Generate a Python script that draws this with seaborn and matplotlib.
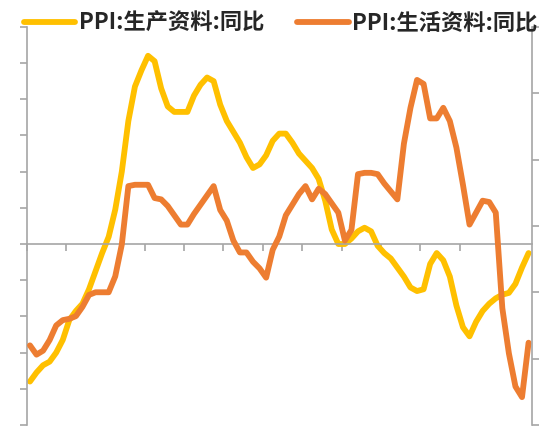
import numpy as np
import pandas as pd
import seaborn as sns
import matplotlib.pyplot as plt
from matplotlib.lines import Line2D

sns.set_style('white')
plt.rcParams['font.family'] = ['Noto Sans CJK SC', 'DejaVu Sans']

# monthly values (77 months)
months = np.arange(77)
ppi_prod = [-7.6, -7.1, -6.7, -6.5, -6.0, -5.3, -4.2, -3.7, -3.3, -2.5,
            -1.5, -0.5, 0.4, 1.9, 4.0, 6.8, 8.7, 9.6, 10.4, 10.1,
            8.6, 7.6, 7.3, 7.3, 7.3, 8.2, 8.8, 9.2, 9.0, 7.7,
            6.8, 6.2, 5.6, 4.8, 4.2, 4.4, 4.9, 5.7, 6.1, 6.1,
            5.6, 5.0, 4.6, 4.2, 3.6, 2.4, 0.8, 0.0, 0.0, 0.3,
            0.7, 0.9, 0.7, -0.1, -0.5, -0.8, -1.3, -1.8, -2.4, -2.6,
            -2.5, -1.1, -0.5, -0.9, -1.8, -3.4, -4.6, -5.1, -4.3, -3.7,
            -3.3, -3.0, -2.8, -2.7, -2.2, -1.3, -0.5]
ppi_life = [-0.90, -0.97, -0.94, -0.86, -0.75, -0.71, -0.70, -0.68, -0.61, -0.52,
            -0.50, -0.50, -0.50, -0.38, -0.14, 0.30, 0.31, 0.31, 0.31, 0.21,
            0.20, 0.15, 0.08, 0.01, 0.01, 0.09, 0.16, 0.23, 0.30, 0.12,
            0.04, -0.11, -0.20, -0.20, -0.27, -0.32, -0.39, -0.18, -0.08, 0.08,
            0.16, 0.24, 0.30, 0.20, 0.28, 0.24, 0.17, 0.10, -0.11, -0.03,
            0.39, 0.40, 0.40, 0.39, 0.32, 0.26, 0.20, 0.62, 0.89, 1.10,
            1.07, 0.81, 0.81, 0.89, 0.79, 0.59, 0.31, 0.01, 0.10, 0.19,
            0.18, 0.10, -0.62, -0.96, -1.21, -1.29, -0.88]
names = ['PPI:生产资料:同比', 'PPI:生活资料:同比']
colors = ['#FFC000', '#ED7D31']
gray = '#A6A6A6'

df = pd.DataFrame({'month': months, 'prod': ppi_prod, 'life': ppi_life})

fig, ax = plt.subplots(figsize=(5.5, 4.33), dpi=100)
fig.subplots_adjust(left=0.0485, right=0.967, bottom=0.0185, top=0.938)
ax2 = ax.twinx()

sns.lineplot(data=df, x='month', y='prod', ax=ax, color=colors[0], linewidth=4.2)
sns.lineplot(data=df, x='month', y='life', ax=ax2, color=colors[1], linewidth=4.2)

ax.set_xlim(-0.5, 76.5)
ax.set_ylim(-10, 12)
ax.set_yticks(np.arange(-10, 13, 2))
ax.set_xticks(np.arange(-0.5, 77, 6))
ax2.set_ylim(-1.5, 1.5)
ax2.set_yticks(np.arange(-1.5, 1.51, 0.5))
for a in (ax, ax2):
    a.set_xlabel('')
    a.set_ylabel('')

ax.spines['top'].set_visible(False)
ax.spines['right'].set_visible(False)
ax.spines['bottom'].set_position(('data', 0))
for s in ('top', 'bottom', 'left'):
    ax2.spines[s].set_visible(False)
for s in ('left', 'bottom'):
    ax.spines[s].set_color(gray)
    ax.spines[s].set_linewidth(1.2)
ax2.spines['right'].set_color(gray)
ax2.spines['right'].set_linewidth(1.2)

ax.tick_params(axis='both', direction='out', length=5, width=1.2, color=gray,
               labelleft=False, labelbottom=False, left=True, bottom=True)
ax2.tick_params(axis='y', direction='out', length=5, width=1.2, color=gray,
                labelright=False, right=True)

handles = [Line2D([], [], color=c, linewidth=4.2, solid_capstyle='round') for c in colors]
fig.legend(handles, names, loc='upper left', bbox_to_anchor=(0.024, 0.998), ncol=2,
           frameon=False, prop={'size': 16, 'weight': 'bold'}, borderpad=0,
           handlelength=2.3, handletextpad=0.15, columnspacing=1.5)

plt.savefig('out.png', dpi=100)
